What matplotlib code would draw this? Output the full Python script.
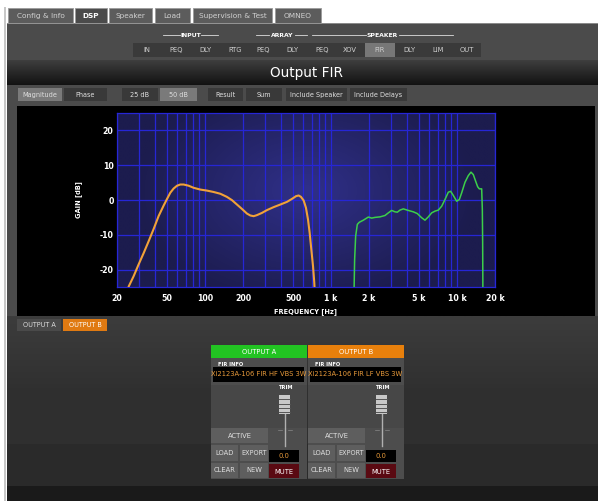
import numpy as np
import matplotlib
matplotlib.use("Agg")
import matplotlib.pyplot as plt
from matplotlib.patches import Rectangle
from matplotlib.colors import to_rgb

plt.rcParams['font.family'] = ['DejaVu Sans']

# ---------------- data ----------------
lf_freq = [24.0, 24.8, 27.1, 29.7, 32.6, 35.7, 39.1, 42.8, 46.9, 49.9, 53.0, 56.3, 59.9,
           63.6, 67.6, 74.1, 81.2, 91.7, 103.6, 117, 132, 149, 163.6, 179, 196, 215,
           228.6, 243, 258, 283, 310, 350, 396, 447, 490, 527, 553, 577, 606, 632,
           656, 676, 697, 719, 736, 750]
lf_gain = [-26.5, -24.8, -21.9, -18.5, -15.2, -11.8, -8.3, -4.6, -1.6, 0.3, 2.1, 3.3, 4.1,
           4.45, 4.45, 4.1, 3.5, 3.0, 2.7, 2.3, 1.8, 0.9, -0.05, -1.3, -2.55, -3.9,
           -4.45, -4.65, -4.35, -3.7, -2.9, -2.05, -1.3, -0.53, 0.33, 1.1, 1.3, 0.9, -0.15, -2.25,
           -5.6, -9.4, -14.2, -19.0, -23.8, -30.0]

hf_freq = [1515, 1538, 1567, 1616, 1675, 1803, 1976, 2100, 2232, 2445, 2679, 2846, 3026,
           3216, 3356, 3524, 3745, 4103, 4495, 4837, 5235, 5563, 5912, 6285, 6680, 7099,
           7546, 8019, 8522, 8893, 9338, 9927, 10421, 10874, 11558, 12276, 12900, 13453,
           14042, 14571, 15019, 15678, 15866, 15960, 16050]
hf_gain = [-30.0, -17.1, -10.4, -7.0, -6.4, -5.8, -4.9, -5.2, -5.0, -4.85, -4.45, -3.7, -3.0,
           -3.4, -3.5, -2.9, -2.55, -3.0, -3.4, -3.9, -5.1, -5.8, -4.85, -3.7, -3.2, -2.9,
           -1.8, 0.14, 2.25, 2.5, 1.3, -0.35, 0.14, 2.05, 5.1, 7.0, 8.0, 7.3,
           5.4, 3.8, 3.2, 3.2, -2.7, -12.3, -30.0]

x_ticks = [20, 50, 100, 200, 500, 1000, 2000, 5000, 10000, 20000]
x_tick_labels = ["20", "50", "100", "200", "500", "1 k", "2 k", "5 k", "10 k", "20 k"]
x_minor = [30, 40, 60, 70, 80, 90, 300, 400, 600, 700, 800, 900,
           3000, 4000, 6000, 7000, 8000, 9000]
y_ticks = [-20, -10, 0, 10, 20]
y_tick_labels = ["-20", "-10", "0", "10", "20"]

tab_labels = ["Config & Info", "DSP", "Speaker", "Load", "Supervision & Test", "OMNEO"]
dsp_labels = ["IN", "PEQ", "DLY", "RTG", "PEQ", "DLY", "PEQ", "XOV", "FIR", "DLY", "LIM", "OUT"]
tool_labels = ["Magnitude", "Phase", "25 dB", "50 dB", "Result", "Sum", "Include Speaker", "Include Delays"]
out_names = ["OUTPUT A", "OUTPUT B"]
fir_names = ["Xi2123A-106 FIR HF VBS 3W", "Xi2123A-106 FIR LF VBS 3W"]
trim_values = ["0.0", "0.0"]

# ---------------- layout helpers ----------------
W, H = 598, 501
fig = plt.figure(figsize=(W / 100, H / 100), dpi=100)
fig.patch.set_facecolor('white')
bg = fig.add_axes([0, 0, 1, 1], zorder=0)
bg.axis('off')


def rect(x0, y0, x1, y1, fc, ec='none', lw=0, z=2):
    p = Rectangle((x0, y0), x1 - x0, y1 - y0, facecolor=fc, edgecolor=ec, linewidth=lw, zorder=z)
    bg.add_patch(p)
    return p


def vgrad(x0, y0, x1, y1, c0, c1, z=1):
    a = np.array(to_rgb(c0)); b = np.array(to_rgb(c1))
    t = np.linspace(0, 1, 64)[:, None]
    img = (a[None, :] * (1 - t) + b[None, :] * t)[:, None, :]
    bg.imshow(img, extent=(x0, x1, y1, y0), aspect='auto', zorder=z, interpolation='bilinear')


def txt(x, y, s, size=4.8, color='#d8d8d8', weight='normal', ha='center', va='center', z=5, **kw):
    return bg.text(x, y, s, fontsize=size, color=color, fontweight=weight, ha=ha, va=va, zorder=z, **kw)


# main panel
rect(0, 0, W, H, 'white', z=0)
rect(4, 7, 6, H, '#c8c8c8', z=1)
rect(7, 23, W, H, '#4b4b4b', z=1)
rect(7, 23, W, 24, '#8a8a8a', z=2)

# tabs
tab_pos = [(8, 73), (75, 107), (109, 152), (155, 190), (193, 272), (275, 321)]
for i, (lab, (a, b)) in enumerate(zip(tab_labels, tab_pos)):
    active = (lab == "DSP")
    rect(a, 8, b, 23, '#5c5c5c' if not active else '#4b4b4b', ec='#9a9a9a', lw=0.6, z=3)
    txt((a + b) / 2, 15.5, lab, size=5.3, color='white' if active else '#d0d0d0',
        weight='bold' if active else 'normal')

# section headers
hdr_y = 35
for (tx0, tx1, name) in [(181, 200, "INPUT"), (270, 294, "ARRAY"), (367, 398, "SPEAKER")]:
    txt((tx0 + tx1) / 2, hdr_y, name, size=4.4, color='white', weight='bold')
for (l0, l1) in [(163, 180), (201, 218), (256, 269), (295, 307), (312, 366), (399, 453)]:
    bg.plot([l0, l1], [hdr_y, hdr_y], color='#dddddd', lw=0.6, zorder=4)

# dsp block buttons
rect(133, 43, 481, 57, '#3a3a3a', z=2)
dsp_x = [147, 176, 205, 235, 263, 292, 322, 350, 380, 409, 438, 467]
for lab, x in zip(dsp_labels, dsp_x):
    if lab == "FIR" and x == 380:
        rect(x - 15, 43, x + 15, 57, '#777777', z=3)
    txt(x, 50, lab, size=4.9, color='#d0d0d0')

# title bar
vgrad(7, 60, W, 85, '#3e3e3e', '#121212', z=2)
txt(306, 72.5, "Output FIR", size=9.8, color='white')

# toolbar
tool_pos = [(18, 62), (64, 107), (122, 158), (160, 197), (208, 243), (246, 282), (286, 347), (350, 407)]
tool_on = ["Magnitude", "50 dB"]
for lab, (a, b) in zip(tool_labels, tool_pos):
    rect(a, 88, b, 101, '#7a7a7a' if lab in tool_on else '#393939', z=3)
    txt((a + b) / 2, 94.5, lab, size=4.7, color='#e0e0e0')

# black chart panel
rect(17, 106, 595, 316, 'black', z=2)

# lower area
vgrad(7, 316, W, 501, '#3c3c3c', '#1e1e1e', z=2)
rect(7, 388, W, 444, '#2f2f2f', z=2)
rect(7, 444, W, 486, '#2a2a2a', z=2)
rect(7, 486, W, 501, '#1a1a1a', z=2)

# output tabs
rect(17, 319, 61, 331, '#4a4a4a', z=3)
txt(39, 325, out_names[0], size=4.7, color='#dddddd')
rect(63, 319, 107, 331, '#e07a12', z=3)
txt(85, 325, out_names[1], size=4.7, color='white')

# output strips
head_cols = ['#22c322', '#e8800c']
for i, off in enumerate([0, 97]):
    x0 = 211 + off
    rect(x0, 345, x0 + 96, 358, head_cols[i], z=3)
    txt(x0 + 48, 351.5, out_names[i], size=4.9, color='white')
    rect(x0, 358, x0 + 96, 479, '#4d4d4d', z=3)
    rect(x0, 385, x0 + 96, 428, '#474747', z=3)
    txt(x0 + 7, 364, "FIR INFO", size=3.7, color='white', weight='bold', ha='left')
    box = rect(x0 + 2, 367, x0 + 93, 382, 'black', z=4)
    t = txt(x0 + 47.5, 374.5, fir_names[i], size=4.9, color='#e89a3a', z=5)
    t.set_clip_path(box)
    txt(x0 + 75, 387.5, "TRIM", size=3.7, color='white', weight='bold')
    # fader
    bg.plot([x0 + 74, x0 + 74], [414, 446], color='#b0b0b0', lw=1.0, zorder=5)
    bg.plot([x0 + 67, x0 + 71], [430, 430], color='#888888', lw=0.5, zorder=5)
    bg.plot([x0 + 77, x0 + 81], [430, 430], color='#888888', lw=0.5, zorder=5)
    rect(x0 + 68, 395, x0 + 79, 414, '#c8c8c8', z=6)
    for yy in [399, 403.5, 408, 412]:
        bg.plot([x0 + 68, x0 + 79], [yy, yy], color='#555555', lw=0.7, zorder=7)
    # buttons
    rect(x0, 428, x0 + 57, 443, '#5e5e5e', z=4)
    txt(x0 + 28.5, 435.5, "ACTIVE", size=4.9, color='#e0e0e0')
    rect(x0, 445, x0 + 27, 461, '#5e5e5e', z=4)
    txt(x0 + 13.5, 453, "LOAD", size=4.9, color='#e0e0e0')
    rect(x0 + 29, 445, x0 + 57, 461, '#5e5e5e', z=4)
    txt(x0 + 43, 453, "EXPORT", size=4.7, color='#e0e0e0')
    rect(x0, 463, x0 + 27, 478, '#5e5e5e', z=4)
    txt(x0 + 13.5, 470.5, "CLEAR", size=4.9, color='#e0e0e0')
    rect(x0 + 29, 463, x0 + 57, 478, '#5e5e5e', z=4)
    txt(x0 + 43, 470.5, "NEW", size=4.9, color='#e0e0e0')
    rect(x0 + 58, 450, x0 + 88, 462, 'black', z=4)
    txt(x0 + 73, 456.5, trim_values[i], size=4.9, color='#e89a3a')
    rect(x0 + 58, 464, x0 + 88, 478, '#5a0a12', z=4)
    txt(x0 + 73, 471.5, "MUTE", size=4.9, color='white')

# axis labels of the chart
txt(79, 200, "GAIN [dB]", size=4.8, color='white', weight='bold', rotation=90)
txt(306, 312, "FREQUENCY [Hz]", size=4.8, color='white', weight='bold')

bg.set_xlim(0, W)
bg.set_ylim(H, 0)

# ---------------- chart ----------------
pos = [117 / W, 1 - 287 / H, 378 / W, 174 / H]
axbg = fig.add_axes(pos, zorder=1)
axbg.axis('off')
u = np.linspace(0, 1, 400)
v = np.linspace(0, 1, 200)
U, V = np.meshgrid(u, v)
r = np.sqrt(((U - 0.5) / 0.45) ** 2 + ((V - 0.55) / 0.65) ** 2)
tt = np.clip(1 - r, 0, 1) ** 1.0
c_edge = np.array(to_rgb('#1c1c4e'))
c_mid = np.array(to_rgb('#30308a'))
img = c_edge + (c_mid - c_edge) * tt[..., None]
axbg.imshow(img, extent=(0, 1, 0, 1), origin='lower', aspect='auto')
axbg.set_xlim(0, 1); axbg.set_ylim(0, 1)

ax = fig.add_axes(pos, zorder=2)
ax.patch.set_alpha(0)
ax.set_xscale('log')
ax.set_xlim(20, 20000)
ax.set_ylim(-25, 25)
ax.set_xticks(x_ticks)
ax.set_xticklabels(x_tick_labels)
ax.set_xticks(x_minor, minor=True)
ax.set_xticklabels([], minor=True)
ax.set_yticks(y_ticks)
ax.set_yticklabels(y_tick_labels)
ax.tick_params(which='both', length=0, colors='white', labelsize=5.7)
ax.tick_params(axis='x', pad=5)
ax.tick_params(axis='y', pad=2.5)
for lab in ax.get_xticklabels() + ax.get_yticklabels():
    lab.set_fontweight('bold')
ax.grid(True, which='both', color='#2626d6', lw=0.9)
for s in ax.spines.values():
    s.set_color('#2626d6')
    s.set_linewidth(0.9)
ax.plot(lf_freq, lf_gain, color='#f2a238', lw=1.5, zorder=5, solid_capstyle='round')
ax.plot(hf_freq, hf_gain, color='#3ccf4a', lw=1.1, zorder=5)

fig.savefig('out.png', dpi=100, facecolor='white')
